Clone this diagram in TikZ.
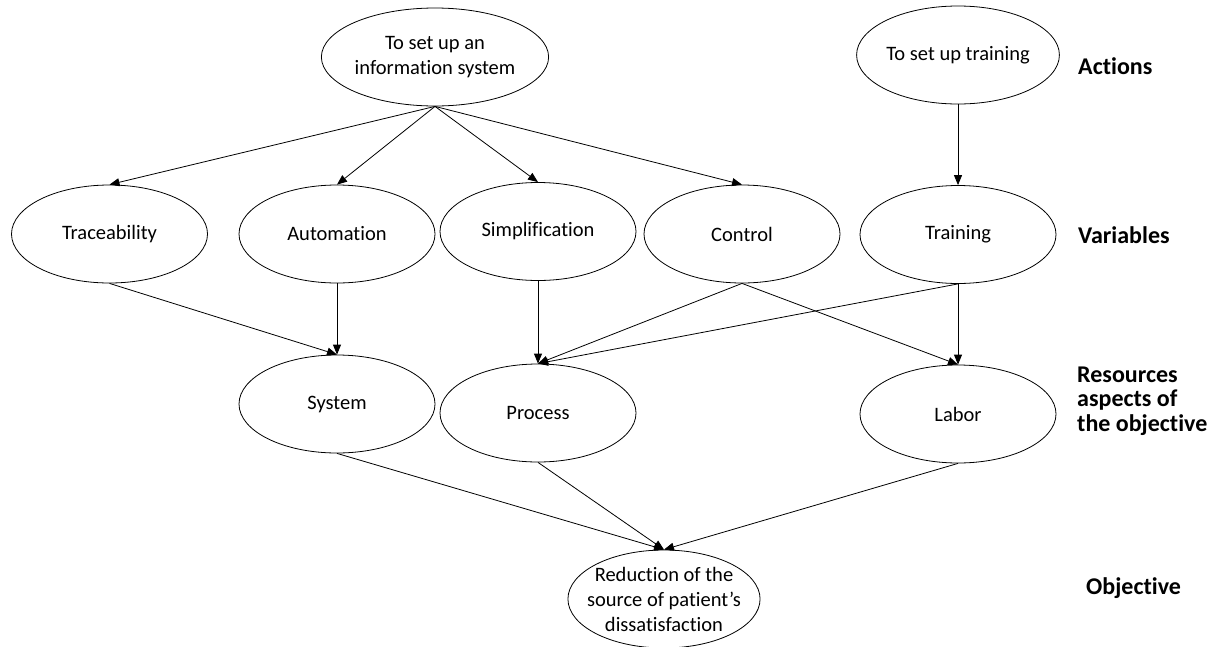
\documentclass[tikz,border=0pt]{standalone}
\usepackage{fontspec}
\setmainfont{Carlito}[Ligatures=NoCommon]
\usetikzlibrary{shapes.geometric,arrows.meta}
\begin{document}
\begin{tikzpicture}[x=1pt,y=-1pt,
  ell/.style={draw,ellipse,line width=0.8pt,minimum width=196pt,minimum height=98pt,inner sep=0pt,align=center,font=\fontsize{20.5}{25}\selectfont},
  arr/.style={draw,line width=0.8pt,-{Triangle[length=10pt,width=8pt]}},
  lbl/.style={anchor=west,align=left,inner sep=0pt,font=\fontsize{24}{24.5}\selectfont\bfseries}]
\useasboundingbox (0,0) rectangle (1215,646);
% Actions
\node[ell] (info) at (435,57) {To set up an\\information system};
\node[ell] (settr) at (958,55) {To set up training};
% Variables
\node[ell] (trace) at (109.5,234) {Traceability};
\node[ell] (auto) at (337,234) {Automation};
\node[ell] (simp) at (538,231.5) {Simplification};
\node[ell] (ctrl) at (742,234) {Control};
\node[ell] (train) at (958,234.5) {Training};
% Resources
\node[ell] (sys) at (337,404) {System};
\node[ell] (proc) at (538,413) {Process};
\node[ell] (lab) at (958,414) {Labor};
% Objective
\node[ell,inner xsep=-9pt,inner ysep=-9pt,minimum width=192pt] (obj) at (664,599) {Reduction of the\\source of patient’s\\dissatisfaction};
% labels
\node[lbl] (lact) at (1078,66) {Actions};
\node[lbl] (lvar) at (1078,235) {Variables};
\node[lbl] (lres) at (1077,401) {Resources\\aspects of\\the objective};
\node[lbl] (lobj) at (1086,588) {Objective};
% arrows
\draw[arr] (info.south) -- (trace.north);
\draw[arr] (info.south) -- (auto.north);
\draw[arr] (info.south) -- (simp.north);
\draw[arr] (info.south) -- (ctrl.north);
\draw[arr] (settr.south) -- (train.north);
\draw[arr] (trace.south) -- (sys.north);
\draw[arr] (auto.south) -- (sys.north);
\draw[arr] (simp.south) -- (proc.north);
\draw[arr] (ctrl.south) -- (proc.north);
\draw[arr] (train.south) -- (proc.north);
\draw[arr] (ctrl.south) -- (lab.north);
\draw[arr] (train.south) -- (lab.north);
\draw[arr] (sys.south) -- (obj.north);
\draw[arr] (proc.south) -- (obj.north);
\draw[arr] (lab.south) -- (obj.north);
\end{tikzpicture}
\end{document}
